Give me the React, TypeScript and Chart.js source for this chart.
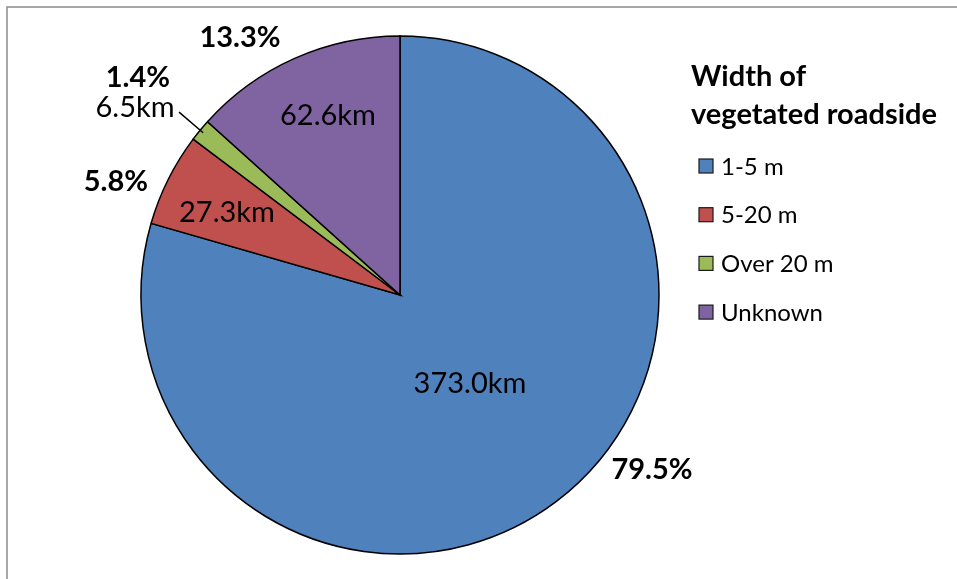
import { useEffect, useRef } from "react";
import { Chart, registerables } from "chart.js";

Chart.register(...registerables);

const categories = ["1-5 m", "5-20 m", "Over 20 m", "Unknown"];
const lengthsKm = [373.0, 27.3, 6.5, 62.6];
const kmLabels = ["373.0km", "27.3km", "6.5km", "62.6km"];
const percentLabels = ["79.5%", "5.8%", "1.4%", "13.3%"];
const sliceColors = ["#4F81BD", "#C0504D", "#9BBB59", "#8064A2"];
const legendTitle = ["Width of", "vegetated roadside"];

const FONT = 'Lato, "Open Sans", sans-serif';

// label placement relative to pie centre, in units of the pie radius
const kmPlace = [
  [0.27, 0.344],
  [-0.668, -0.317],
  [-1.023, -0.722],
  [-0.278, -0.691],
];
const pctPlace = [
  [0.973, 0.676],
  [-1.097, -0.436],
  [-1.012, -0.838],
  [-0.618, -0.992],
];
const outsideKm = [false, false, true, false];

const decorPlugin = {
  id: "decor",
  beforeDraw(chart: any) {
    const ctx = chart.ctx;
    ctx.save();
    ctx.fillStyle = "#ffffff";
    ctx.fillRect(0, 0, chart.width, chart.height);
    ctx.strokeStyle = "#8a8a8a";
    ctx.lineWidth = 1.5;
    ctx.strokeRect(7, 7, chart.width + 20, chart.height + 20);
    ctx.restore();
  },
  afterDatasetsDraw(chart: any) {
    const ctx = chart.ctx;
    const meta = chart.getDatasetMeta(0);
    ctx.save();
    ctx.fillStyle = "#000000";
    ctx.textAlign = "center";
    ctx.textBaseline = "middle";
    meta.data.forEach((arc: any, i: number) => {
      const p = arc.getProps(["x", "y", "outerRadius", "startAngle", "endAngle"], true);
      const R = p.outerRadius;
      const kx = p.x + kmPlace[i][0] * R;
      const ky = p.y + kmPlace[i][1] * R;
      ctx.font = `29px ${FONT}`;
      ctx.fillText(kmLabels[i], kx, ky);
      ctx.font = `bold 29px ${FONT}`;
      ctx.fillText(percentLabels[i], p.x + pctPlace[i][0] * R, p.y + pctPlace[i][1] * R);
      if (outsideKm[i]) {
        const mid = (p.startAngle + p.endAngle) / 2;
        const ex = p.x + Math.cos(mid) * R * 0.985;
        const ey = p.y + Math.sin(mid) * R * 0.985;
        ctx.beginPath();
        ctx.strokeStyle = "#000000";
        ctx.lineWidth = 1.5;
        ctx.moveTo(kx + 0.17 * R, ky + 0.016 * R);
        ctx.lineTo(ex, ey);
        ctx.stroke();
      }
    });
    ctx.restore();
  },
  afterDraw(chart: any) {
    const ctx = chart.ctx;
    ctx.save();
    ctx.fillStyle = "#000000";
    ctx.textAlign = "left";
    ctx.textBaseline = "middle";
    ctx.font = `bold 29px ${FONT}`;
    legendTitle.forEach((t, i) => ctx.fillText(t, 691, 77 + i * 38));
    ctx.font = `24px ${FONT}`;
    categories.forEach((c, i) => {
      const cy = 166 + i * 48.7;
      ctx.fillStyle = sliceColors[i];
      ctx.fillRect(699, cy - 7, 14, 14);
      ctx.strokeStyle = "#1a1a1a";
      ctx.lineWidth = 1.2;
      ctx.strokeRect(699, cy - 7, 14, 14);
      ctx.fillStyle = "#000000";
      ctx.fillText(c, 721, cy + 1);
    });
    ctx.restore();
  },
};

export default function App() {
  const ref = useRef<HTMLCanvasElement | null>(null);
  useEffect(() => {
    if (!ref.current) return;
    const chart = new Chart(ref.current, {
      type: "pie",
      data: {
        labels: categories,
        datasets: [
          {
            data: lengthsKm,
            backgroundColor: sliceColors,
            borderColor: "#000000",
            borderWidth: 1.5,
            borderJoinStyle: "miter",
            radius: 259,
          } as any,
        ],
      },
      options: {
        animation: false,
        responsive: false,
        layout: { padding: { left: 141, right: 298, top: 36, bottom: 25 } },
        plugins: {
          legend: { display: false },
          tooltip: { enabled: false },
          title: { display: false },
        },
      },
      plugins: [decorPlugin],
    });
    return () => chart.destroy();
  }, []);
  return (
    <div style={{ position: "absolute", left: 0, top: 0, width: 957, height: 579 }}>
      <canvas ref={ref} width={957} height={579} style={{ width: 957, height: 579, display: "block" }} />
    </div>
  );
}
